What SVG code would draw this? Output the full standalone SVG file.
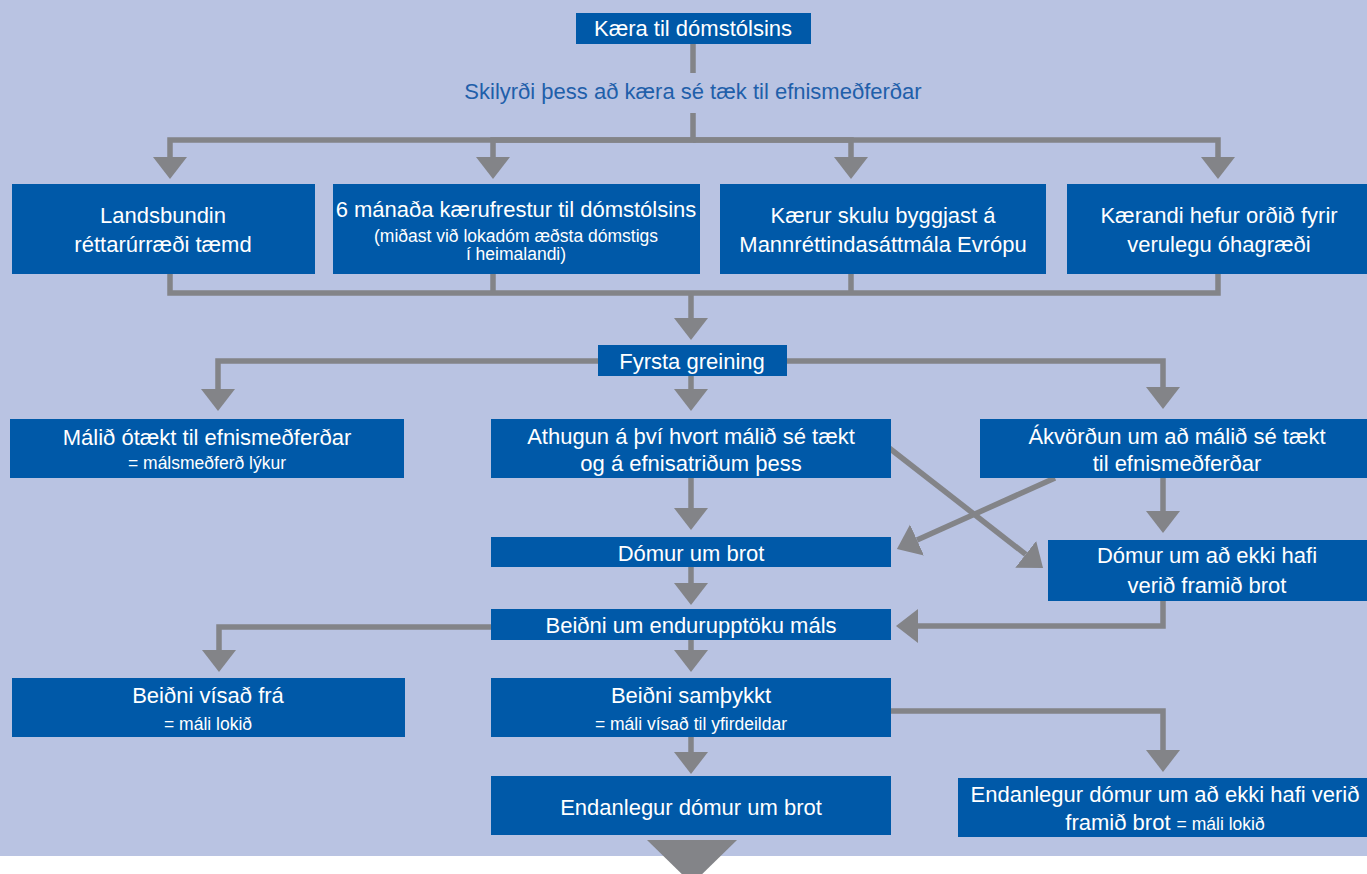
<svg xmlns="http://www.w3.org/2000/svg" width="1367" height="874" viewBox="0 0 1367 874">
  <style>
    .box { fill: #0059A8; }
    .t { font-family: "Liberation Sans", Arial, sans-serif; font-size: 22px; fill: #FFFFFF; text-anchor: middle; }
    .s { font-size: 17.5px; }
    .lbl { font-family: "Liberation Sans", Arial, sans-serif; font-size: 22px; fill: #1F5FAA; text-anchor: middle; }
    .c { fill: none; stroke: #838488; stroke-width: 5.5; stroke-linejoin: miter; }
    .a { marker-end: url(#ah); }
  </style>
  <defs>
    <marker id="ah" markerUnits="userSpaceOnUse" markerWidth="23" markerHeight="35" refX="0" refY="17" orient="auto" viewBox="0 0 23 34">
      <path d="M0,0 L22,17 L0,34 Z" fill="#838488"/>
    </marker>
  </defs>

  <rect x="0" y="0" width="1367" height="856" fill="#B9C3E2"/>
  <rect x="0" y="856" width="1367" height="18" fill="#FFFFFF"/>

  <g id="connectors">
    <path class="c" d="M693,44 V73"/>
    <path class="c a" d="M693,113 V140 H170 V157"/>
    <path class="c a" d="M693,140 H493 V157"/>
    <path class="c a" d="M693,140 H851 V157"/>
    <path class="c a" d="M693,140 H1218 V157"/>
    <path class="c" d="M170,274 V293 H1218 V274"/>
    <path class="c" d="M493,274 V293"/>
    <path class="c" d="M851,274 V293"/>
    <path class="c a" d="M691,293 V318"/>
    <path class="c a" d="M598,361 H218 V389"/>
    <path class="c a" d="M787,361 H1163 V387"/>
    <path class="c a" d="M691,376 V389"/>
    <path class="c a" d="M691,478 V508"/>
    <path class="c a" d="M1163,478 V511"/>
    <path class="c a" d="M884,444 L1025.7,554.4"/>
    <path class="c a" d="M1055,478 L917,540"/>
    <path class="c a" d="M691,567 V583"/>
    <path class="c a" d="M1163,601 V626 H918"/>
    <path class="c a" d="M491,627 H219 V650"/>
    <path class="c a" d="M691,640 V650"/>
    <path class="c a" d="M891,711 H1163 V750"/>
    <path class="c a" d="M691,737 V752"/>
    <polygon points="647,840 737,840 692,884" fill="#838488"/>
  </g>

  <g id="n-kaera">
    <rect class="box" x="576" y="13" width="235" height="31"/>
    <text class="t" x="693" y="36">Kæra til dómstólsins</text>
  </g>
  <g id="n-skilyrdi">
    <text class="lbl" x="693" y="99">Skilyrði þess að kæra sé tæk til efnismeðferðar</text>
  </g>

  <g id="n-landsbundin">
    <rect class="box" x="12" y="184" width="303" height="90"/>
    <text class="t" x="163" y="223">Landsbundin</text>
    <text class="t" x="163" y="252">réttarúrræði tæmd</text>
  </g>
  <g id="n-6manada">
    <rect class="box" x="333" y="184" width="367" height="90"/>
    <text class="t" x="516" y="217">6 mánaða kærufrestur til dómstólsins</text>
    <text class="t s" x="516" y="242">(miðast við lokadóm æðsta dómstigs</text>
    <text class="t s" x="516" y="260">í heimalandi)</text>
  </g>
  <g id="n-kaerur">
    <rect class="box" x="720" y="184" width="326" height="90"/>
    <text class="t" x="883" y="223">Kærur skulu byggjast á</text>
    <text class="t" x="883" y="252">Mannréttindasáttmála Evrópu</text>
  </g>
  <g id="n-kaerandi">
    <rect class="box" x="1067" y="184" width="300" height="90"/>
    <text class="t" x="1219" y="223">Kærandi hefur orðið fyrir</text>
    <text class="t" x="1219" y="252">verulegu óhagræði</text>
  </g>

  <g id="n-fyrsta">
    <rect class="box" x="598" y="345" width="189" height="31"/>
    <text class="t" x="692" y="369">Fyrsta greining</text>
  </g>

  <g id="n-otaekt">
    <rect class="box" x="10" y="419" width="394" height="59"/>
    <text class="t" x="207" y="445">Málið ótækt til efnismeðferðar</text>
    <text class="t s" x="207" y="469">= málsmeðferð lýkur</text>
  </g>
  <g id="n-athugun">
    <rect class="box" x="491" y="419" width="400" height="59"/>
    <text class="t" x="691" y="444">Athugun á því hvort málið sé tækt</text>
    <text class="t" x="691" y="471">og á efnisatriðum þess</text>
  </g>
  <g id="n-akvordun">
    <rect class="box" x="980" y="419" width="387" height="59"/>
    <text class="t" x="1177" y="444">Ákvörðun um að málið sé tækt</text>
    <text class="t" x="1177" y="471">til efnismeðferðar</text>
  </g>

  <g id="n-domur-brot">
    <rect class="box" x="491" y="537" width="400" height="30"/>
    <text class="t" x="691" y="561">Dómur um brot</text>
  </g>
  <g id="n-domur-ekki">
    <rect class="box" x="1048" y="540" width="319" height="61"/>
    <text class="t" x="1207" y="563">Dómur um að ekki hafi</text>
    <text class="t" x="1207" y="593">verið framið brot</text>
  </g>

  <g id="n-beidni-endur">
    <rect class="box" x="491" y="609" width="400" height="31"/>
    <text class="t" x="691" y="633">Beiðni um endurupptöku máls</text>
  </g>

  <g id="n-beidni-visad">
    <rect class="box" x="12" y="678" width="393" height="59"/>
    <text class="t" x="208" y="703">Beiðni vísað frá</text>
    <text class="t s" x="208" y="730">= máli lokið</text>
  </g>
  <g id="n-beidni-samth">
    <rect class="box" x="491" y="678" width="400" height="59"/>
    <text class="t" x="691" y="703">Beiðni samþykkt</text>
    <text class="t s" x="691" y="730">= máli vísað til yfirdeildar</text>
  </g>

  <g id="n-endanlegur-brot">
    <rect class="box" x="491" y="776" width="400" height="59"/>
    <text class="t" x="691" y="815">Endanlegur dómur um brot</text>
  </g>
  <g id="n-endanlegur-ekki">
    <rect class="box" x="958" y="778" width="409" height="59"/>
    <text class="t" x="1165" y="802">Endanlegur dómur um að ekki hafi verið</text>
    <text class="t" x="1165" y="830">framið brot <tspan class="s">= máli lokið</tspan></text>
  </g>
</svg>
